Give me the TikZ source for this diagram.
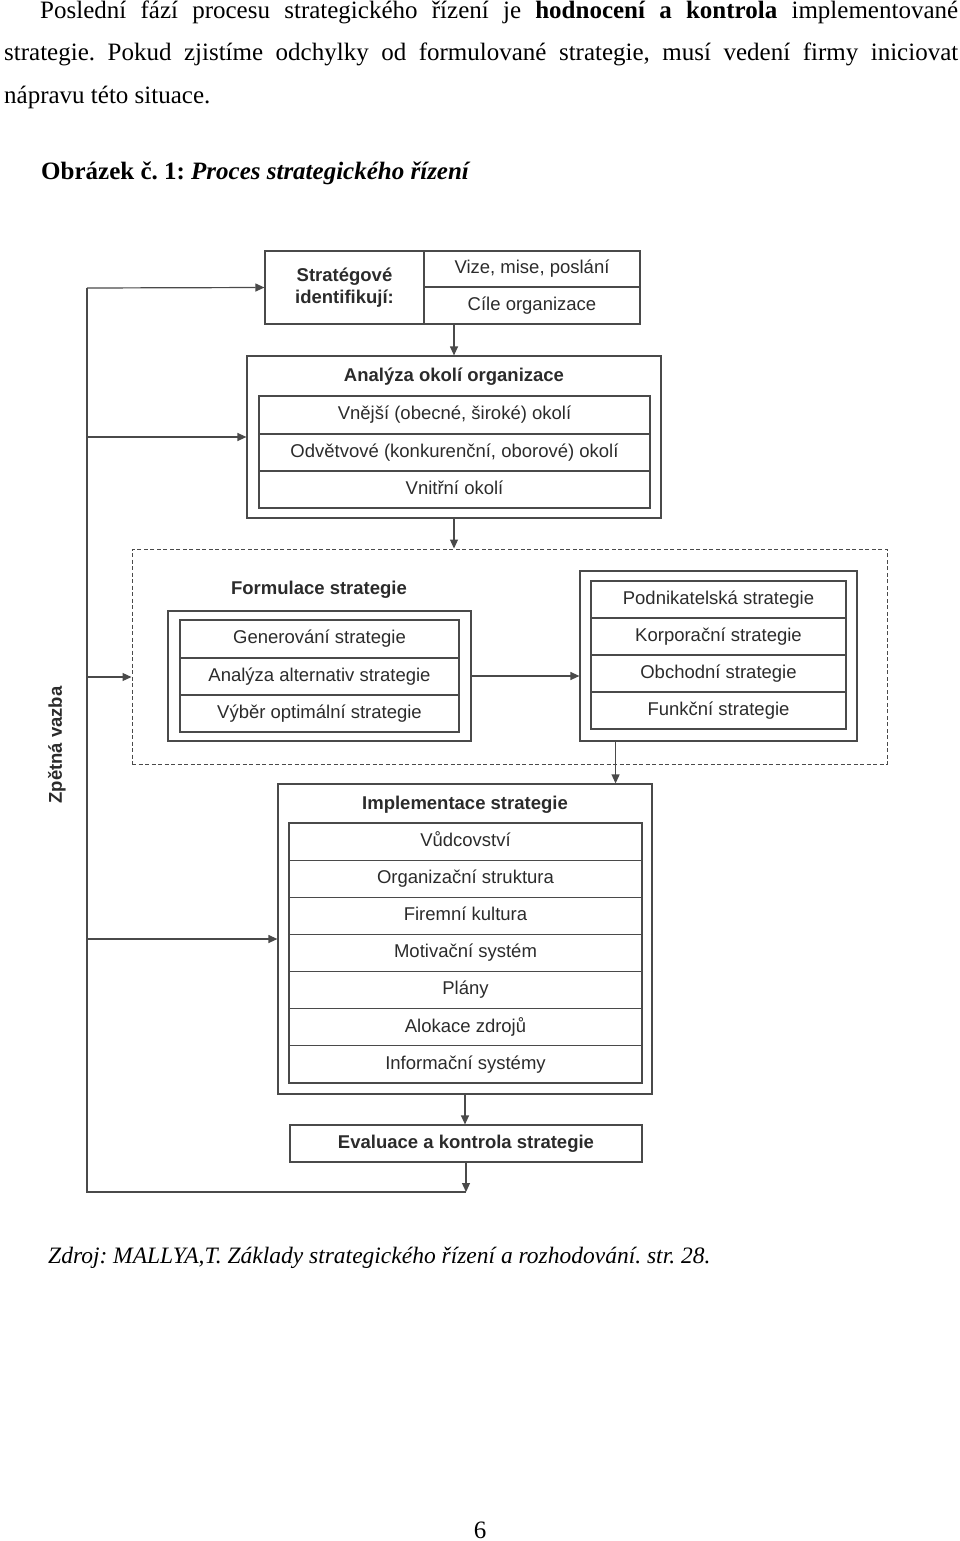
\documentclass[tikz,border=0pt]{standalone}
\usepackage{fontspec}
\setmainfont{Liberation Serif}
\newfontfamily\diafont{Liberation Sans}
\usetikzlibrary{arrows.meta,calc}
\frenchspacing
\definecolor{ln}{HTML}{4A4A4A}
\definecolor{tx}{HTML}{2B2B2B}
\tikzset{
  box/.style={draw=ln, line width=1.2pt, rectangle, inner sep=0pt, font=\diafont\fontsize{18.5}{22}\selectfont, text=tx, align=center},
  row/.style={box, text height=13.5pt, text depth=4pt},
  ttl/.style={inner sep=0pt, font=\diafont\bfseries\fontsize{18.5}{22}\selectfont, text=tx},
  conn/.style={draw=ln, line width=1.2pt, -{Triangle[length=9pt,width=8pt]}},
  plain/.style={draw=ln, line width=1.2pt},
  body/.style={inner sep=0pt, anchor=base west, font=\fontsize{25}{30}\selectfont, text=black}
}
\begin{document}
\begin{tikzpicture}[x=1pt,y=-1pt]
\useasboundingbox (0,0) rectangle (960,1541);
% body text
\node[body] (p1) at (40,19) {\makebox[918pt][s]{Poslední fází procesu strategického řízení je \textbf{hodnocení a kontrola} implementované}};
\node[body] (p2) at (4,61) {\makebox[954pt][s]{strategie. Pokud zjistíme odchylky od formulované strategie, musí vedení firmy iniciovat}};
\node[body] (p3) at (4,104) {nápravu této situace.};
\node[body] (cap) at (41,180) {\textbf{Obrázek č. 1:} \textbf{\textit{Proces strategického řízení}}};
\node[body, font=\fontsize{23.5}{28}\selectfont] (src) at (48,1263) {\textit{Zdroj: MALLYA,T. Základy strategického řízení a rozhodování. str. 28.}};
\node[body, anchor=base] (pg) at (480,1538) {6};

% box 1
\node[box, minimum width=159pt, minimum height=73pt, font=\diafont\bfseries\fontsize{18.5}{22}\selectfont] (s1) at (344.5,287.5) {Stratégové\\identifikují:};
\node[row, minimum width=216pt, minimum height=36pt] (v1) at (532,269) {Vize, mise, poslání};
\node[row, minimum width=216pt, minimum height=37pt] (c1) at (532,305.5) {Cíle organizace};

% analyza
\node[box, minimum width=414pt, minimum height=162pt] (an) at (454,437) {};
\node[ttl] (ant) at (454,377) {Analýza okolí organizace};
\node[row, minimum width=391pt, minimum height=38pt] (a1) at (454.5,415) {Vnější (obecné, široké) okolí};
\node[row, minimum width=391pt, minimum height=37pt] (a2) at (454.5,452.5) {Odvětvové (konkurenční, oborové) okolí};
\node[row, minimum width=391pt, minimum height=37pt] (a3) at (454.5,489.5) {Vnitřní okolí};

% dashed formulation box
\node[box, dashed, dash pattern=on 4pt off 2.5pt, line width=1pt, minimum width=755pt, minimum height=215pt] (db) at (509.5,656.5) {};
\node[ttl] (fot) at (319,590) {Formulace strategie};
\node[box, minimum width=303pt, minimum height=130pt] (fo) at (319.5,676) {};
\node[row, minimum width=279pt, minimum height=38pt] (f1) at (319.5,639) {Generování strategie};
\node[row, minimum width=279pt, minimum height=37pt] (f2) at (319.5,676.5) {Analýza alternativ strategie};
\node[row, minimum width=279pt, minimum height=37pt] (f3) at (319.5,713.5) {Výběr optimální strategie};

\node[box, minimum width=277pt, minimum height=170pt] (ro) at (718.5,656) {};
\node[row, minimum width=255pt, minimum height=37pt] (r1) at (718.5,599.5) {Podnikatelská strategie};
\node[row, minimum width=255pt, minimum height=37pt] (r2) at (718.5,636.5) {Korporační strategie};
\node[row, minimum width=255pt, minimum height=37pt] (r3) at (718.5,673.5) {Obchodní strategie};
\node[row, minimum width=255pt, minimum height=37pt] (r4) at (718.5,710.5) {Funkční strategie};

% implementace
\node[box, minimum width=374pt, minimum height=310pt] (im) at (465,939) {};
\node[ttl] (imt) at (465,805) {Implementace strategie};
\node[row, minimum width=353pt, minimum height=37.14pt] (i1) at (465.5,841.6) {Vůdcovství};
\node[row, minimum width=353pt, minimum height=37.14pt] (i2) at (465.5,878.7) {Organizační struktura};
\node[row, minimum width=353pt, minimum height=37.14pt] (i3) at (465.5,915.9) {Firemní kultura};
\node[row, minimum width=353pt, minimum height=37.14pt] (i4) at (465.5,953.0) {Motivační systém};
\node[row, minimum width=353pt, minimum height=37.14pt] (i5) at (465.5,990.1) {Plány};
\node[row, minimum width=353pt, minimum height=37.14pt] (i6) at (465.5,1027.3) {Alokace zdrojů};
\node[row, minimum width=353pt, minimum height=37.14pt] (i7) at (465.5,1064.4) {Informační systémy};

\node[row, minimum width=352pt, minimum height=37pt, font=\diafont\bfseries\fontsize{18.5}{22}\selectfont] (ev) at (466,1143.5) {Evaluace a kontrola strategie};

% feedback label
\node[ttl, rotate=90] (zv) at (57,745) {Zpětná vazba};

% coordinates
\coordinate (fbb) at (87,1192);
\coordinate (fbt) at (87,288);
\coordinate (fbd) at (87,677);
\coordinate (rs) at ($(ro.south west)!0.13!(ro.south east)$);

% main flow
\draw[conn] (an.north |- c1.south) -- (an.north);
\draw[conn] (an.south) -- (an.south |- db.north);
\draw[conn] (fo.east) -- (fo.east -| ro.west);
\draw[conn] (rs) -- (rs |- im.north);
\draw[conn] (im.south) -- (im.south |- ev.north);
\draw[conn] (ev.south) -- (ev.south |- fbb);

% feedback loop
\draw[plain] (ev.south |- fbb) -- (fbb) -- (fbt);
\draw[conn] (fbt) -- (s1.west);
\draw[conn] (fbt |- an.west) -- (an.west);
\draw[conn] (fbd) -- (fbd -| db.west);
\draw[conn] (fbt |- im.west) -- (im.west);
\end{tikzpicture}
\end{document}
